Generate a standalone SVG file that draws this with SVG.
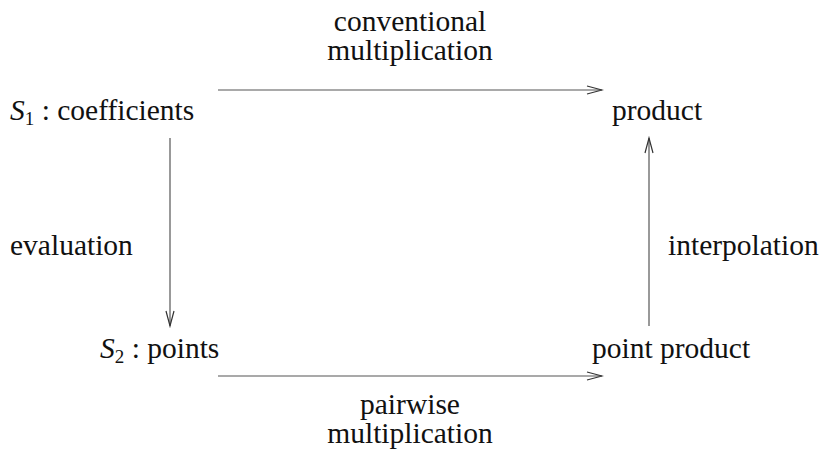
<svg xmlns="http://www.w3.org/2000/svg" width="823" height="450" viewBox="0 0 823 450">
<style>
text{font-family:'Liberation Serif','DejaVu Serif','Noto Serif',serif;font-size:29.5px;fill:#111}
.it{font-style:italic}
.sub{font-size:19px}
.c{text-anchor:middle}
.edge{stroke:#555;stroke-width:1.2;fill:none}
</style>
<defs>
<marker id="ah" markerWidth="18" markerHeight="10" refX="16" refY="5" orient="auto" markerUnits="userSpaceOnUse">
<path d="M1,1 L16,5 L1,9" fill="none" stroke="#333" stroke-width="1.2"/>
</marker>
</defs>
<rect width="823" height="450" fill="#fff"/>
<g id="connectors">
<line class="edge" x1="218" y1="90" x2="602" y2="90" marker-end="url(#ah)"/>
<line class="edge" x1="170" y1="138" x2="170" y2="326" marker-end="url(#ah)"/>
<line class="edge" x1="649" y1="326" x2="649" y2="138" marker-end="url(#ah)"/>
<line class="edge" x1="218" y1="376" x2="602" y2="376" marker-end="url(#ah)"/>
</g>
<g id="s1"><text x="10" y="120"><tspan class="it">S</tspan><tspan class="sub" dy="5">1</tspan><tspan dy="-5"> : coefficients</tspan></text></g>
<g id="product"><text x="612" y="120">product</text></g>
<g id="s2"><text x="100" y="358"><tspan class="it">S</tspan><tspan class="sub" dy="5">2</tspan><tspan dy="-5"> : points</tspan></text></g>
<g id="pointproduct"><text x="592" y="358">point product</text></g>
<g id="lbl-conv"><text class="c" x="410" y="31">conventional</text><text class="c" x="410" y="60">multiplication</text></g>
<g id="lbl-eval"><text x="10" y="255">evaluation</text></g>
<g id="lbl-interp"><text x="668" y="255">interpolation</text></g>
<g id="lbl-pair"><text class="c" x="410" y="414">pairwise</text><text class="c" x="410" y="443">multiplication</text></g>
</svg>
